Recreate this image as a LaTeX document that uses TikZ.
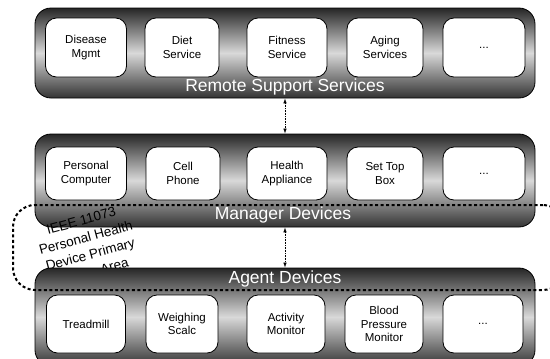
\documentclass[tikz,border=0pt]{standalone}
\usepackage{fontspec}
\setmainfont{Liberation Sans}
\usetikzlibrary{arrows.meta}

\begin{document}
\begin{tikzpicture}[x=1pt,y=-1pt,
    panel/.style={draw=black, line width=0.8pt, rounded corners=16pt, minimum width=500pt,
      top color=black!85, bottom color=black!80, middle color=black!15},
    itembox/.style={draw=black, fill=white, line width=0.8pt, rounded corners=11pt,
      align=center, inner sep=1pt, font=\fontsize{11.5}{13.5}\selectfont},
    paneltext/.style={text=white, font=\fontsize{17.5}{19}\selectfont},
    focustext/.style={rotate=15, align=center, font=\fontsize{13.5}{17.5}\selectfont},
    focusline/.style={draw=black, line width=2pt, dash pattern=on 3pt off 2.5pt, rounded corners=22pt,
      minimum width=552pt, minimum height=85pt},
    link/.style={densely dotted, line width=0.6pt, {Latex[length=5pt,width=3.5pt]}-{Latex[length=5pt,width=3.5pt]}}]
  \useasboundingbox (0,0) rectangle (550,359);
  \clip (0,0) rectangle (550,359);

  \node[panel, minimum height=90pt] (remote) at (285,53) {};
  \foreach \name/\x/\w/\txt in {disease/86/81/{Disease\\Mgmt}, diet/182/74/{Diet\\Service},
      fitness/287/80/{Fitness\\Service}, aging/385/76/{Aging\\Services}, moreremote/484/82/{...}}
    \node[itembox, minimum width=\w pt, minimum height=59pt] (\name) at (\x,47.5) {\txt};
  \node[paneltext] (remotelbl) at (285,87) {Remote Support Services};

  \node[panel, minimum height=93pt] (manager) at (285,180.5) {};
  \foreach \name/\x/\w/\txt in {pc/86/81/{Personal\\Computer}, phone/183/74/{Cell\\Phone},
      appliance/287/80/{Health\\Appliance}, settop/385/76/{Set Top\\Box}, moremanager/484/82/{...}}
    \node[itembox, minimum width=\w pt, minimum height=53pt] (\name) at (\x,173.5) {\txt};
  \node[paneltext] (managerlbl) at (283,215) {Manager Devices};

  \node[focustext] (focuslbl) at (88,246) {IEEE 11073\\Personal Health\\Device Primary\\Focus Area};

  \node[panel, minimum height=98pt] (agent) at (285,317) {};
  \foreach \name/\x/\w/\txt in {treadmill/86/79/{Treadmill}, scale/182/72/{Weighing\\Scalc},
      activity/286/78/{Activity\\Monitor}, bp/384/78/{Blood\\Pressure\\Monitor}, moreagent/483/80/{...}}
    \node[itembox, minimum width=\w pt, minimum height=58pt] (\name) at (\x,324) {\txt};
  \node[paneltext] (agentlbl) at (285,279) {Agent Devices};

  \node[focusline] (focus) at (289,247.5) {};

  \draw[link] (remote.south) -- (manager.north);
  \draw[link] (manager.south) -- (agent.north);
\end{tikzpicture}
\end{document}
